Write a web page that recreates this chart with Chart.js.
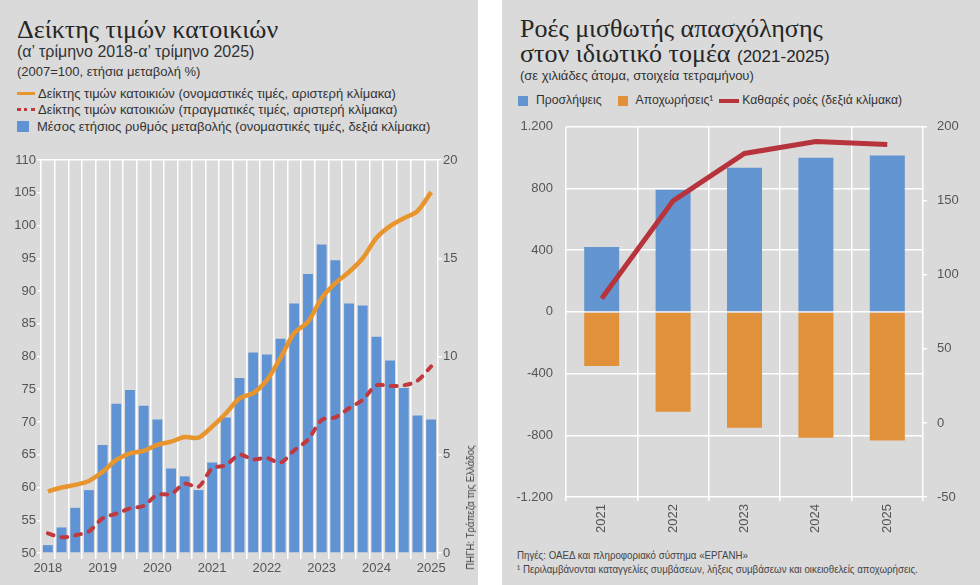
<!DOCTYPE html>
<html>
<head>
<meta charset="utf-8">
<script src="https://cdn.jsdelivr.net/npm/chart.js@4.4.1/dist/chart.umd.min.js"></script>
<style>
  body { margin: 0; width: 980px; height: 585px; background: #fff; position: relative; overflow: hidden;
         font-family: "Liberation Sans", Arial, sans-serif; color: #333; }
  .panel { position: absolute; top: 0; width: 478px; height: 585px; background: #dadada; }
  #leftPanel { left: 0; }
  #rightPanel { left: 502px; }
  .abs { position: absolute; white-space: nowrap; }
  .title { font-family: "Liberation Serif", "DejaVu Serif", serif; font-size: 26px; color: #262626; line-height: 26px; }
  .sub { font-size: 16px; line-height: 18px; }
  .small { font-size: 13px; line-height: 15px; }
  .leg { font-size: 13px; line-height: 15px; display: flex; align-items: center; }
  .sw { display: inline-block; width: 10px; height: 10px; margin-right: 8px; }
  .ln { display: inline-block; width: 18px; height: 0; margin-right: 3px; }
  canvas { position: absolute; }
  .src { font-size: 11.5px; color: #444; transform-origin: 0 50%; transform: scaleX(0.845); }
</style>
</head>
<body>
<div class="panel" id="leftPanel">
  <div class="abs title" style="left:17px; top:17px;">Δείκτης τιμών κατοικιών</div>
  <div class="abs sub" style="left:17px; top:43px;">(α’ τρίμηνο 2018-α’ τρίμηνο 2025)</div>
  <div class="abs small" style="left:17px; top:64px;">(2007=100, ετήσια μεταβολή %)</div>
  <div class="abs leg" style="left:17px; top:86px;"><span class="ln" style="border-top:3px solid #e8952e;"></span>Δείκτης τιμών κατοικιών (ονομαστικές τιμές, αριστερή κλίμακα)</div>
  <div class="abs leg" style="left:17px; top:102px;"><span class="ln" style="border-top:3px dotted #c0393f;"></span>Δείκτης τιμών κατοικιών (πραγματικές τιμές, αριστερή κλίμακα)</div>
  <div class="abs leg" style="left:17px; top:119px;"><span class="sw" style="background:#5f93d3; width:12px; height:11px;"></span>Μέσος ετήσιος ρυθμός μεταβολής (ονομαστικές τιμές, δεξιά κλίμακα)</div>
  <canvas id="housing" width="478" height="440" style="left:0; top:140px;"></canvas>
  <div class="abs" style="left:405px; top:503px; width:130px; font-size:10.5px; line-height:14px; color:#444; text-align:center; transform:rotate(-90deg) scaleX(0.92);">ΠΗΓΗ: Τράπεζα της Ελλάδος</div>
</div>

<div class="panel" id="rightPanel">
  <div class="abs title" style="left:18px; top:16px;">Ροές μισθωτής απασχόλησης</div>
  <div class="abs title" style="left:18px; top:41px;">στον ιδιωτικό τομέα <span style="font-family:'Liberation Sans',Arial,sans-serif; font-size:17px;">(2021-2025)</span></div>
  <div class="abs small" style="left:18px; top:68px;">(σε χιλιάδες άτομα, στοιχεία τετραμήνου)</div>
  <div class="abs leg" style="left:16px; top:93px; font-size:12.2px;">
    <span class="sw" style="background:#6395d1;"></span>Προσλήψεις
    <span class="sw" style="background:#e0913a; margin-left:16px;"></span>Αποχωρήσεις¹
    <span class="ln" style="border-top:4px solid #b7343c; width:20px; margin-left:6px;"></span>Καθαρές ροές (δεξιά κλίμακα)
  </div>
  <canvas id="flows" width="478" height="434" style="left:0; top:106px;"></canvas>
  <div class="abs src" style="left:15px; top:549px;">Πηγές: ΟΑΕΔ και πληροφοριακό σύστημα «ΕΡΓΑΝΗ»</div>
  <div class="abs src" style="left:15px; top:563px;">¹ Περιλαμβάνονται καταγγελίες συμβάσεων, λήξεις συμβάσεων και οικειοθελείς αποχωρήσεις.</div>
</div>

<script>
// left chart: house price index, quarterly Q1 2018 - Q1 2025
const quarterLabels = ['2018', '', '', '', '2019', '', '', '', '2020', '', '', '', '2021', '', '', '',
  '2022', '', '', '', '2023', '', '', '', '2024', '', '', '', '2025'];
const avgAnnualChange = [0.4, 1.3, 2.3, 3.2, 5.5, 7.6, 8.3, 7.5, 6.8, 4.3, 3.9, 3.2, 4.6, 6.9, 8.9, 10.2,
  10.1, 10.9, 12.7, 14.2, 15.7, 14.9, 12.7, 12.6, 11.0, 9.8, 8.4, 7.0, 6.8];
const nominalIndex = [59.4, 60.0, 60.4, 61.0, 62.4, 64.2, 65.2, 65.6, 66.5, 67.0, 67.7, 67.6, 69.3, 71.3, 73.6, 74.4,
  76.4, 79.8, 83.6, 85.3, 88.9, 91.2, 92.9, 95.0, 98.1, 99.9, 101.1, 102.2, 105.1];
const realIndex = [53.0, 52.4, 52.7, 53.3, 55.3, 56.0, 56.8, 57.2, 58.9, 59.0, 60.6, 60.1, 62.9, 63.4, 65.0, 64.3,
  64.5, 63.8, 65.7, 67.3, 70.3, 70.7, 72.1, 73.4, 75.6, 75.5, 75.6, 76.3, 78.5];

// right chart: private sector employment flows (thousands)
const years = ['2021', '2022', '2023', '2024', '2025'];
const hires = [421, 792, 934, 999, 1014];
const separations = [-350, -647, -751, -816, -833];
const netFlows = [84, 150, 182, 190, 188];

const tickFont = { family: '"Liberation Sans", Arial, sans-serif', size: 13 };
const tickColor = '#555';

new Chart(document.getElementById('housing'), {
  type: 'bar',
  data: {
    labels: quarterLabels,
    datasets: [
      {
        type: 'line', label: 'nominal', data: nominalIndex, yAxisID: 'y',
        borderColor: '#e8952e', borderWidth: 4.5, pointRadius: 0, tension: 0.3, order: 0
      },
      {
        type: 'line', label: 'real', data: realIndex, yAxisID: 'y',
        borderColor: '#c0393f', borderWidth: 4, borderDash: [6, 8], borderCapStyle: 'round',
        pointRadius: 0, tension: 0.3, order: 1
      },
      {
        label: 'avg', data: avgAnnualChange, yAxisID: 'y2', backgroundColor: '#5f93d3',
        barPercentage: 0.72, categoryPercentage: 1, order: 2
      }
    ]
  },
  options: {
    responsive: false,
    animation: false,
    layout: { padding: { top: 20, left: 0, right: 0, bottom: 0 } },
    plugins: { legend: { display: false }, tooltip: { enabled: false } },
    scales: {
      x: {
        offset: true,
        grid: { offset: true, color: '#fff', lineWidth: 1.5, tickLength: 6 },
        border: { display: false },
        ticks: { autoSkip: false, maxRotation: 0, color: tickColor, font: tickFont, padding: 2 },
        afterFit: s => { s.height = 27; }
      },
      y: {
        position: 'left', min: 50, max: 110,
        ticks: { stepSize: 5, color: tickColor, font: tickFont, padding: 1 },
        grid: {
          color: c => (c.tick && c.tick.value === 110 ? '#fff' : 'rgba(0,0,0,0)'),
          tickColor: '#fff', tickLength: 4, lineWidth: 1.5
        },
        border: { display: false },
        afterFit: s => { s.width = 41; }
      },
      y2: {
        position: 'right', min: 0, max: 20,
        ticks: { stepSize: 5, color: tickColor, font: tickFont, padding: 1 },
        grid: { drawOnChartArea: false, tickColor: '#fff', tickLength: 4, lineWidth: 1.5 },
        border: { display: false },
        afterFit: s => { s.width = 40; }
      }
    }
  }
});

new Chart(document.getElementById('flows'), {
  type: 'bar',
  data: {
    labels: years,
    datasets: [
      {
        type: 'line', label: 'net', data: netFlows, yAxisID: 'y2',
        borderColor: '#b7343c', borderWidth: 5, pointRadius: 0, tension: 0, order: 0
      },
      {
        label: 'hires', data: hires, yAxisID: 'y', backgroundColor: '#6395d1',
        barPercentage: 0.49, categoryPercentage: 1, order: 1
      },
      {
        label: 'separations', data: separations, yAxisID: 'y', backgroundColor: '#e0913a',
        barPercentage: 0.49, categoryPercentage: 1, order: 2
      }
    ]
  },
  options: {
    responsive: false,
    animation: false,
    layout: { padding: { top: 12, left: 0, right: 0, bottom: 0 } },
    plugins: { legend: { display: false }, tooltip: { enabled: false } },
    scales: {
      x: {
        stacked: true, offset: true,
        grid: { offset: true, color: '#fff', lineWidth: 1.5, tickLength: 4 },
        border: { display: false },
        ticks: { autoSkip: false, minRotation: 90, maxRotation: 90, color: tickColor, font: tickFont, padding: 3 },
        afterFit: s => { s.height = 43; }
      },
      y: {
        stacked: true, position: 'left', min: -1200, max: 1200,
        ticks: {
          stepSize: 400, color: tickColor, font: tickFont, padding: 13,
          callback: v => String(v).replace(/(\d)(\d{3})$/, '$1.$2')
        },
        grid: { color: '#fff', lineWidth: 1.5, drawTicks: false },
        border: { display: false },
        afterFit: s => { s.width = 64; }
      },
      y2: {
        position: 'right', min: -50, max: 200,
        ticks: { stepSize: 50, color: tickColor, font: tickFont, padding: 10 },
        grid: { drawOnChartArea: false, tickColor: '#fff', tickLength: 4, lineWidth: 1.5 },
        border: { display: false },
        afterFit: s => { s.width = 57; }
      }
    }
  }
});
</script>
</body>
</html>
